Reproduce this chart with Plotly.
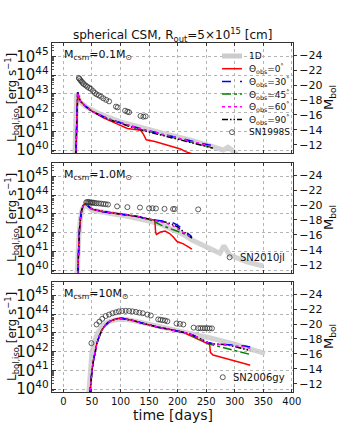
import plotly.graph_objects as go

# ---------------- data (time in days, luminosity as log10 L [erg/s]) ----------------
# Panel 1: M_csm = 0.1 Msun
p1_t = [21, 22, 23, 24, 25, 27, 30, 35, 40, 50, 60, 70, 85, 100, 120, 140, 160, 180, 200, 220, 240, 262]
p1_30 = [39.0, 40.5, 42.0, 42.9, 43.08, 42.8, 42.6, 42.45, 42.3, 42.08, 41.93, 41.78, 41.6, 41.45, 41.27, 41.1, 40.95, 40.8, 40.65, 40.5, 40.37, 40.23]
p1_45 = [39.0, 40.5, 42.0, 42.9, 43.08, 42.8, 42.6, 42.45, 42.3, 42.08, 41.93, 41.78, 41.6, 41.45, 41.26, 41.08, 40.92, 40.76, 40.6, 40.44, 40.28, 40.12]
p1_60 = [39.0, 40.5, 42.0, 42.9, 43.08, 42.8, 42.6, 42.45, 42.3, 42.08, 41.93, 41.78, 41.6, 41.45, 41.27, 41.1, 40.94, 40.79, 40.63, 40.48, 40.34, 40.2]
p1_90 = [39.0, 40.5, 42.0, 42.9, 43.08, 42.8, 42.6, 42.45, 42.3, 42.08, 41.92, 41.76, 41.58, 41.42, 41.22, 41.04, 40.88, 40.72, 40.56, 40.4, 40.25, 40.1]
p1_0t = [21, 22, 23, 24, 25, 27, 30, 35, 40, 50, 60, 70, 85, 100, 112, 125, 135, 140, 145, 160, 175, 190, 205, 215, 225]
p1_0 = [39.0, 40.5, 42.0, 42.9, 43.08, 42.8, 42.6, 42.45, 42.3, 42.08, 41.9, 41.72, 41.52, 41.32, 41.15, 41.1, 41.05, 40.85, 40.55, 40.45, 40.33, 40.2, 40.05, 39.9, 39.8]
p1_1dt = [20, 21, 22, 23, 25, 30, 40, 60, 100, 140, 180, 220, 250, 270, 280, 288, 295, 305]
p1_1d = [39.5, 41.0, 42.5, 43.0, 42.9, 42.55, 42.3, 41.98, 41.5, 41.15, 40.85, 40.55, 40.32, 40.1, 40.0, 40.15, 40.0, 39.7]
sn98s_t = [27, 28, 30, 32, 34, 36, 39, 42, 45, 48, 52, 55, 58, 62, 66, 70, 75, 80, 92, 95, 108, 112, 115, 135, 140, 144]
sn98s_l = [43.85, 43.8, 43.72, 43.65, 43.58, 43.52, 43.45, 43.38, 43.32, 43.27, 43.15, 43.05, 42.98, 42.92, 42.85, 42.76, 42.68, 42.6, 42.32, 42.28, 42.1, 42.05, 42.02, 41.82, 41.78, 41.8]

# Panel 2: M_csm = 1.0 Msun
p2_t = [25, 26, 27, 28, 30, 32, 35, 38, 42, 50, 70, 90, 110, 130, 150, 160, 170, 180, 190, 200, 210, 218, 225]
p2_30 = [39.8, 40.8, 41.6, 42.1, 42.8, 43.2, 43.45, 43.55, 43.45, 43.25, 43.12, 43.04, 42.96, 42.86, 42.72, 42.68, 42.65, 42.6, 42.55, 42.4, 42.15, 41.93, 41.78]
p2_45 = [39.8, 40.8, 41.6, 42.1, 42.8, 43.2, 43.45, 43.55, 43.45, 43.25, 43.12, 43.04, 42.96, 42.86, 42.7, 42.58, 42.41, 42.3, 42.2, 42.1, 41.95, 41.85, 41.7]
p2_60 = [39.8, 40.8, 41.6, 42.1, 42.8, 43.2, 43.45, 43.55, 43.45, 43.25, 43.12, 43.04, 42.96, 42.86, 42.72, 42.66, 42.6, 42.5, 42.4, 42.2, 42.0, 41.85, 41.75]
p2_90 = [39.8, 40.8, 41.6, 42.1, 42.8, 43.2, 43.45, 43.55, 43.45, 43.25, 43.12, 43.04, 42.96, 42.86, 42.72, 42.67, 42.62, 42.55, 42.45, 42.3, 42.05, 41.85, 41.72]
p2_0t = [25, 26, 27, 28, 30, 32, 35, 38, 42, 50, 70, 90, 110, 130, 150, 160, 161.5, 163, 170, 178, 186, 192, 199, 210, 218, 225]
p2_0 = [39.8, 40.8, 41.6, 42.1, 42.8, 43.2, 43.45, 43.55, 43.45, 43.25, 43.12, 43.04, 42.96, 42.86, 42.72, 42.66, 42.0, 41.9, 42.03, 42.08, 41.95, 41.78, 41.52, 41.4, 41.25, 41.12]
p2_1dt = [24, 25, 27, 30, 33, 37, 42, 50, 70, 90, 110, 130, 150, 170, 190, 210, 225, 250, 274, 281, 291, 321, 350]
p2_1d = [39.8, 40.8, 41.8, 42.8, 43.25, 43.45, 43.4, 43.2, 43.06, 42.98, 42.88, 42.76, 42.62, 42.45, 42.2, 41.9, 41.6, 41.25, 40.9, 41.3, 40.8, 40.44, 40.21]
sn10jl_t = [40, 42, 44, 46, 48, 50, 52, 55, 58, 62, 66, 70, 74, 78, 94, 112, 134, 150, 156, 162, 177, 192, 195, 236, 291]
sn10jl_l = [43.62, 43.63, 43.63, 43.62, 43.6, 43.6, 43.6, 43.58, 43.57, 43.56, 43.55, 43.53, 43.52, 43.5, 43.4, 43.36, 43.34, 43.3, 43.3, 43.29, 43.27, 43.26, 43.26, 43.24, 40.68]

# Panel 3: M_csm = 10 Msun
p3_t = [46, 47, 48, 50, 52.5, 55, 58.5, 62, 67, 73, 79, 86, 93, 102, 112, 122, 137, 152, 166, 181, 195, 210, 220, 228, 236, 245, 254, 262, 275, 286, 298, 309, 318, 327]
p3_30 = [39.6, 40.1, 40.5, 41.0, 41.5, 41.95, 42.42, 42.75, 43.13, 43.4, 43.57, 43.68, 43.75, 43.78, 43.74, 43.66, 43.53, 43.4, 43.3, 43.22, 43.13, 43.04, 42.96, 42.86, 42.75, 42.6, 42.47, 42.42, 42.4, 42.38, 42.35, 42.33, 42.3, 42.24]
p3_45 = [39.6, 40.1, 40.5, 41.0, 41.5, 41.95, 42.42, 42.75, 43.13, 43.4, 43.57, 43.68, 43.75, 43.78, 43.74, 43.66, 43.53, 43.4, 43.3, 43.22, 43.13, 43.04, 42.94, 42.82, 42.7, 42.55, 42.42, 42.35, 42.25, 42.18, 42.08, 41.98, 41.9, 41.85]
p3_60 = [39.6, 40.1, 40.5, 41.0, 41.5, 41.95, 42.42, 42.75, 43.13, 43.4, 43.57, 43.68, 43.75, 43.78, 43.74, 43.66, 43.53, 43.4, 43.3, 43.22, 43.13, 43.04, 42.96, 42.86, 42.75, 42.6, 42.47, 42.42, 42.38, 42.36, 42.33, 42.3, 42.25, 42.18]
p3_90 = [39.6, 40.1, 40.5, 41.0, 41.5, 41.95, 42.42, 42.75, 43.13, 43.4, 43.57, 43.68, 43.75, 43.78, 43.74, 43.66, 43.53, 43.4, 43.3, 43.22, 43.13, 43.04, 42.96, 42.86, 42.75, 42.6, 42.47, 42.42, 42.4, 42.36, 42.28, 42.2, 42.12, 42.06]
p3_0t = [46, 47, 48, 50, 52.5, 55, 58.5, 62, 67, 73, 79, 86, 93, 102, 112, 122, 137, 152, 166, 181, 195, 210, 220, 228, 236, 245, 252, 256, 257.5, 262, 270, 286, 298, 309, 318, 327]
p3_0 = [39.6, 40.1, 40.5, 41.0, 41.5, 41.95, 42.42, 42.75, 43.13, 43.4, 43.57, 43.68, 43.75, 43.78, 43.74, 43.66, 43.53, 43.4, 43.3, 43.22, 43.13, 43.04, 42.88, 42.77, 42.65, 42.52, 42.43, 42.38, 41.95, 41.82, 41.75, 41.62, 41.55, 41.45, 41.35, 41.27]
p3_1dt = [44, 45, 46, 48, 50, 55, 60, 70, 80, 95, 110, 130, 150, 175, 200, 225, 250, 275, 300, 325, 353]
p3_1d = [39.6, 40.2, 40.8, 41.5, 42.0, 42.6, 43.0, 43.4, 43.6, 43.72, 43.72, 43.6, 43.45, 43.28, 43.1, 42.95, 42.78, 42.6, 42.4, 42.15, 41.9]
sn06gy_t = [49, 58, 63, 68, 74, 80, 86, 92, 97, 103, 109, 115, 121, 127, 133, 139, 147, 153, 166, 170, 174, 178, 182, 198, 204, 210, 228, 236, 240, 244, 248, 252, 256, 260, 279]
sn06gy_l = [42.45, 43.45, 43.6, 43.75, 43.9, 43.98, 44.05, 44.1, 44.15, 44.17, 44.18, 44.17, 44.15, 44.12, 44.08, 44.05, 43.98, 43.93, 43.72, 43.7, 43.68, 43.66, 43.62, 43.5, 43.48, 43.45, 43.28, 43.25, 43.25, 43.25, 43.25, 43.25, 43.24, 43.24, 40.63]

panel_labels = ["M<sub>csm</sub>=0.1M<sub>⊙</sub>", "M<sub>csm</sub>=1.0M<sub>⊙</sub>", "M<sub>csm</sub>=10M<sub>⊙</sub>"]
obs_names = ["SN1998S", "SN2010jl", "SN2006gy"]
legend_labels = ["1D", "Θ<sub>obs</sub>=0<sup>°</sup>", "Θ<sub>obs</sub>=30<sup>°</sup>",
                 "Θ<sub>obs</sub>=45<sup>°</sup>", "Θ<sub>obs</sub>=60<sup>°</sup>",
                 "Θ<sub>obs</sub>=90<sup>°</sup>", "SN1998S"]
x_ticks = [0, 50, 100, 150, 200, 250, 300, 350, 400]
m_ticks = [-24, -22, -20, -18, -16, -14, -12]

panels = [
    dict(t=p1_t, a30=p1_30, a45=p1_45, a60=p1_60, a90=p1_90, t0=p1_0t, a0=p1_0, t1d=p1_1dt, d1=p1_1d, ot=sn98s_t, ol=sn98s_l),
    dict(t=p2_t, a30=p2_30, a45=p2_45, a60=p2_60, a90=p2_90, t0=p2_0t, a0=p2_0, t1d=p2_1dt, d1=p2_1d, ot=sn10jl_t, ol=sn10jl_l),
    dict(t=p3_t, a30=p3_30, a45=p3_45, a60=p3_60, a90=p3_90, t0=p3_0t, a0=p3_0, t1d=p3_1dt, d1=p3_1d, ot=sn06gy_t, ol=sn06gy_l),
]

# ---------------- styling / layout ----------------
FONT = "DejaVu Sans"
W, H = 346, 433
ML, MR, MT, MB = 52, 53, 43, 41
PW, PH = W - ML - MR, H - MT - MB
YLO, YHI = 39.84, 45.72
XR = [-20, 402]
CM = 88.685  # M_bol = CM - 2.5 log10 L
panel_px = [(43, 153), (163, 273), (282, 392)]

RED, BLUE, GREEN, MAG, BLK, GRAY = "#ff0000", "#0000ff", "#008000", "#ff00ff", "#000000", "#cccccc"
GRID = "#b4b4b4"
DASH90 = "6px,2px,1.5px,2px,1.5px,2px"
styles = {
    "a0": dict(color=RED, width=1.5, dash="solid"),
    "a30": dict(color=BLUE, width=1.5, dash="dash"),
    "a45": dict(color=GREEN, width=1.5, dash="dashdot"),
    "a60": dict(color=MAG, width=1.5, dash="dot"),
    "a90": dict(color=BLK, width=1.5, dash=DASH90),
}

def py2paper(py):
    return (H - MB - py) / PH

def px2paper(px):
    return (px - ML) / PW

fig = go.Figure()

def L(v):
    return [10 ** x for x in v]

for i, p in enumerate(panels, start=1):
    xa = "x" if i == 1 else f"x{i}"
    ya = "y" if i == 1 else f"y{i}"
    fig.add_trace(go.Scatter(x=p["t1d"], y=L(p["d1"]), xaxis=xa, yaxis=ya, mode="lines",
                             line=dict(color=GRAY, width=5), opacity=0.85, showlegend=False))
    fig.add_trace(go.Scatter(x=p["t0"], y=L(p["a0"]), xaxis=xa, yaxis=ya, mode="lines",
                             line=styles["a0"], showlegend=False))
    for key in ["a45", "a90", "a30", "a60"]:
        fig.add_trace(go.Scatter(x=p["t"], y=L(p[key]), xaxis=xa, yaxis=ya, mode="lines",
                                 line=styles[key], showlegend=False))
    fig.add_trace(go.Scatter(x=p["ot"], y=L(p["ol"]), xaxis=xa, yaxis=ya, mode="markers",
                             marker=dict(symbol="circle-open", size=5, color="#333333", line=dict(width=0.8)),
                             showlegend=False))
    # carrier for right-hand M_bol axis
    fig.add_trace(go.Scatter(x=[None], y=[None], xaxis=xa, yaxis=f"y{i+3}", showlegend=False, hoverinfo="skip"))

    top, bot = panel_px[i - 1]
    dom = [py2paper(bot), py2paper(top)]
    fig.layout[f"xaxis{'' if i == 1 else i}"] = dict(
        domain=[0, 1], anchor=ya, range=XR, tickvals=x_ticks, showticklabels=(i == 3),
        ticks="inside", ticklen=3, tickcolor="#333", mirror="ticks", showline=True, linecolor="#333",
        linewidth=1, showgrid=True, gridcolor=GRID, griddash="dot", gridwidth=1, zeroline=False,
        tickfont=dict(family=FONT, size=10, color="#111"),
        **({} if i == 1 else dict(matches="x")))
    fig.layout[f"yaxis{'' if i == 1 else i}"] = dict(
        domain=dom, anchor=xa, type="log", range=[YLO, YHI], dtick=1, exponentformat="power",
        ticks="inside", ticklen=4, tickcolor="#333", showline=True, mirror=True, linecolor="#333",
        linewidth=1, showgrid=True, gridcolor=GRID, griddash="dot", gridwidth=1, zeroline=False,
        minor=dict(ticks="inside", ticklen=2, tickcolor="#555", showgrid=False),
        tickfont=dict(family=FONT, size=12, color="#111"))
    fig.layout[f"yaxis{i+3}"] = dict(
        overlaying=ya, side="right", anchor=xa, range=[CM - 2.5 * YLO, CM - 2.5 * YHI],
        tickvals=m_ticks, ticks="outside", ticklen=3, tickcolor="#333", showgrid=False,
        showline=False, zeroline=False, tickfont=dict(family=FONT, size=11, color="#111"))

annotations = []
for i in range(3):
    top, bot = panel_px[i]
    mid = (top + bot) / 2
    annotations.append(dict(text="L<sub>bol,iso</sub> [erg s<sup>−1</sup>]", x=px2paper(12), xref="paper",
                            y=py2paper(mid), yref="paper", textangle=-90, showarrow=False,
                            font=dict(family=FONT, size=12, color="#111"), xanchor="center", yanchor="middle"))
    annotations.append(dict(text="M<sub>bol</sub>", x=px2paper(329), xref="paper",
                            y=py2paper(mid), yref="paper", textangle=-90, showarrow=False,
                            font=dict(family=FONT, size=13, color="#111"), xanchor="center", yanchor="middle"))
    annotations.append(dict(text=panel_labels[i], x=px2paper(62), xref="paper",
                            y=py2paper(top + 12), yref="paper", showarrow=False, xanchor="left", yanchor="middle",
                            font=dict(family=FONT, size=11, color="#111")))

annotations.append(dict(text=obs_names[1], x=px2paper(287), xref="paper", y=py2paper(257), yref="paper",
                        showarrow=False, xanchor="right", yanchor="middle", font=dict(family=FONT, size=10, color="#111")))
annotations.append(dict(text=obs_names[2], x=px2paper(287), xref="paper", y=py2paper(377), yref="paper",
                        showarrow=False, xanchor="right", yanchor="middle", font=dict(family=FONT, size=10, color="#111")))
annotations.append(dict(text="spherical CSM, R<sub>out</sub>=5×10<sup>15</sup> [cm]", x=0.5, xref="paper",
                        y=py2paper(35), yref="paper", showarrow=False, xanchor="center", yanchor="middle",
                        font=dict(family=FONT, size=12, color="#111")))
annotations.append(dict(text="time [days]", x=0.5, xref="paper", y=py2paper(415), yref="paper",
                        showarrow=False, xanchor="center", yanchor="middle", font=dict(family=FONT, size=14, color="#111")))

# manual legend in panel 1
shapes = []
leg_y0, leg_dy = 56, 12.7
leg_styles = [dict(color=GRAY, width=5, dash="solid"), styles["a0"], styles["a30"], styles["a45"], styles["a60"], styles["a90"]]
for k, lab in enumerate(legend_labels):
    yy = py2paper(leg_y0 + k * leg_dy)
    if k < 6:
        shapes.append(dict(type="line", xref="paper", yref="paper", x0=px2paper(222), x1=px2paper(242),
                           y0=yy, y1=yy, line=leg_styles[k]))
    else:
        shapes.append(dict(type="circle", xref="paper", yref="paper", xsizemode="pixel", ysizemode="pixel",
                           xanchor=px2paper(232), yanchor=yy, x0=-2.5, x1=2.5, y0=-2.5, y1=2.5,
                           line=dict(color="#333", width=0.8)))
    annotations.append(dict(text=lab, x=px2paper(247), xref="paper", y=yy, yref="paper", showarrow=False,
                            xanchor="left", yanchor="middle", font=dict(family=FONT, size=9, color="#111")))

fig.update_layout(width=W, height=H, margin=dict(l=ML, r=MR, t=MT, b=MB), plot_bgcolor="white",
                  paper_bgcolor="white", showlegend=False, annotations=annotations, shapes=shapes,
                  font=dict(family=FONT, color="#111"))
fig.write_html("out.html", config={"displayModeBar": False},
               post_script="document.body.style.margin='0';document.body.style.padding='0';")
